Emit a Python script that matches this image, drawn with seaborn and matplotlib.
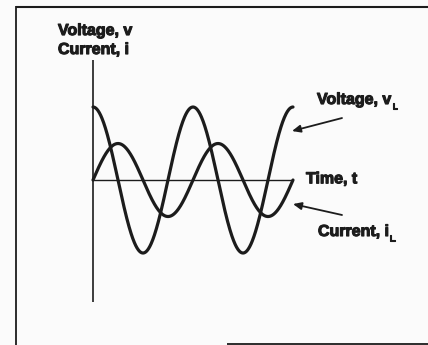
import numpy as np
import pandas as pd
import matplotlib
matplotlib.use("Agg")
import matplotlib.pyplot as plt
import matplotlib.patheffects as pe
from matplotlib.lines import Line2D
import seaborn as sns

# Waveform description: inductor voltage leads current by 90 degrees
cycles = [2.0]                 # number of periods shown
voltage_peak = [1.0]           # v_L amplitude
current_peak = [0.5]           # i_L amplitude
phase_deg = [90.0, 0.0]        # voltage phase, current phase (degrees)
series_names = ["Voltage", "Current"]

axis_labels = ["Voltage, v", "Current, i"]
time_label = "Time, t"

sns.set_style("white")
plt.rcParams["font.family"] = ["Liberation Sans", "DejaVu Sans"]

W, H, DPI = 428, 345, 100
INK = "#1c1c1c"
BG = "#fbfbfb"

t = np.linspace(0, cycles[0], 600)
wave = pd.concat([
    pd.DataFrame({"t": t,
                  "value": voltage_peak[0] * np.sin(2 * np.pi * t + np.deg2rad(phase_deg[0])),
                  "series": series_names[0]}),
    pd.DataFrame({"t": t,
                  "value": current_peak[0] * np.sin(2 * np.pi * t + np.deg2rad(phase_deg[1])),
                  "series": series_names[1]}),
])

fig = plt.figure(figsize=(W / DPI, H / DPI), dpi=DPI, facecolor=BG)
ax = fig.add_axes([0, 0, 1, 1])
ax.set_facecolor(BG)

# one period spans 100 px, unit amplitude spans 73 px, origin at (93, 180) px
ax.set_xlim(-0.93, 3.35)
ax.set_ylim(-2.260, 2.466)
ax.axis("off")

sns.lineplot(data=wave, x="t", y="value", units="series", estimator=None,
             color=INK, lw=2.3, ax=ax, legend=False, sort=False)

# axes of the sketch
ax.plot([0, 0], [-1.671, 1.644], color=INK, lw=1.2, solid_capstyle="butt")
ax.plot([0, 1.99], [0, 0], color=INK, lw=1.0, solid_capstyle="butt")

heavy = [pe.withStroke(linewidth=0.8, foreground=INK)]
txt = dict(fontsize=11.5, fontweight="bold", color=INK, va="baseline", ha="left",
           path_effects=heavy)
sub = dict(fontsize=6.5, fontweight="bold", color=INK, va="baseline", ha="left",
           path_effects=heavy)

ax.text(-0.35, 1.986, axis_labels[0], **txt)
ax.text(-0.35, 1.726, axis_labels[1], **txt)
ax.text(2.13, -0.045, time_label, **txt)

ax.text(2.24, 1.041, "Voltage, v", **txt)
ax.text(2.99, 0.976, "L", **sub)
ax.text(2.25, -0.767, "Current, i", **txt)
ax.text(2.965, -0.832, "L", **sub)

arrow = dict(arrowstyle="-|>,head_length=0.5,head_width=0.22", color=INK, lw=1.3,
             shrinkA=0, shrinkB=0)
ax.annotate("", xy=(1.99, 0.671), xytext=(2.49, 0.849), arrowprops=arrow)
ax.annotate("", xy=(2.00, -0.329), xytext=(2.49, -0.479), arrowprops=arrow)

# open frame around the drawing
def px_line(x0, y0, x1, y1, lw):
    fig.add_artist(Line2D([x0 / W, x1 / W], [1 - y0 / H, 1 - y1 / H],
                          transform=fig.transFigure, color=INK, lw=lw,
                          solid_capstyle="butt"))

px_line(16, 6.5, 428, 6.5, 1.5)
px_line(16, 6, 16, 345, 1.3)
px_line(227, 344, 428, 344, 1.3)

fig.savefig("out.png", dpi=DPI, facecolor=BG)
